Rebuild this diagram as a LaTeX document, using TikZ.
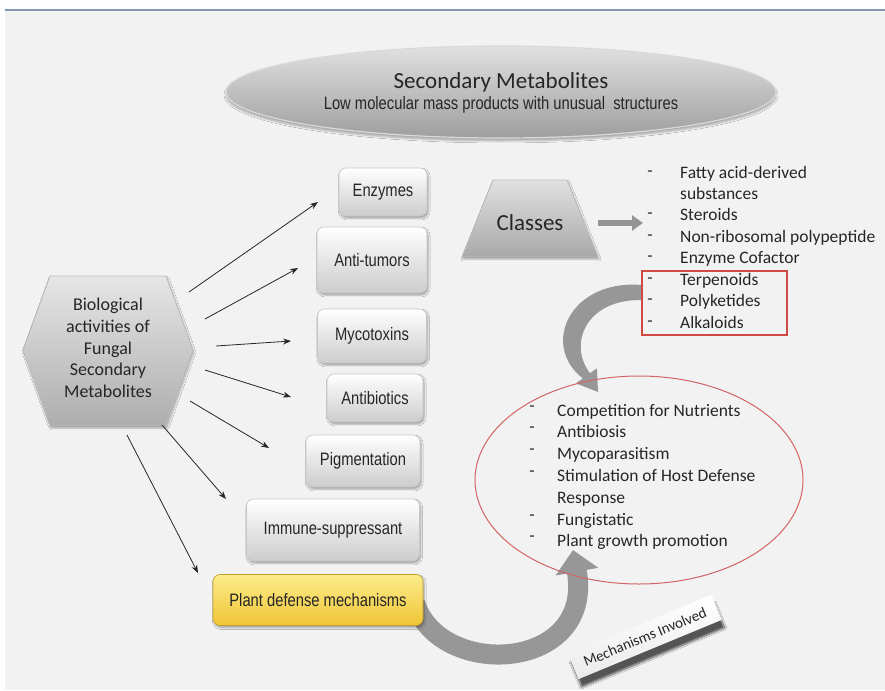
\documentclass[tikz,border=0pt]{standalone}
\usepackage{fontspec}
\setmainfont{Carlito}
\newfontfamily\narrowfont[FakeStretch=0.82]{Liberation Sans}
\usetikzlibrary{shapes.geometric,shadows.blur,arrows.meta}
\definecolor{bgc}{HTML}{F2F2F2}
\definecolor{txt}{HTML}{262626}
\definecolor{redbox}{HTML}{CF4A42}
\definecolor{redell}{HTML}{D26464}
\definecolor{arrgray}{HTML}{979797}
\definecolor{topline}{HTML}{8397B0}
\definecolor{yltop}{HTML}{FCEC8C}
\definecolor{ylbot}{HTML}{F0C535}
\tikzset{
  actbox/.style={rectangle, rounded corners=7pt, draw=black!22, line width=0.6pt,
    top color=white, bottom color=black!20, inner sep=0pt, text=txt,
    font=\narrowfont\fontsize{18}{20}\selectfont,
    blur shadow={shadow xshift=1.2pt, shadow yshift=-2pt, shadow blur steps=5, shadow opacity=35}},
  yellowbox/.style={actbox, top color=yltop, bottom color=ylbot, draw=ylbot!80!black},
  thinarr/.style={draw=black!85, line width=0.8pt, -{Stealth[length=8pt,width=6pt]}},
  curvarr/.style={draw=arrgray, line cap=butt},
  listtxt/.style={anchor=base west, inner sep=0pt, text=txt, font=\fontsize{17.5}{21}\selectfont},
  dashtxt/.style={anchor=base, inner sep=0pt, text=txt, font=\fontsize{17.5}{21}\selectfont},
}
\begin{document}
\begin{tikzpicture}[x=1pt,y=-1pt]
\useasboundingbox (0,0) rectangle (885,690);
\fill[white] (0,0) rectangle (885,690);
\fill[bgc] (5,11) rectangle (885,690);
\draw[topline, line width=1.5pt] (5,10) -- (885,10);

% title ellipse
\node[ellipse, minimum width=550pt, minimum height=92pt, inner sep=0pt,
  top color=black!12, bottom color=black!38, draw=white!85!black, line width=1.2pt,
  blur shadow={shadow xshift=0pt, shadow yshift=-3pt, shadow blur steps=6, shadow opacity=30}] (sm) at (501,92) {};
\node[text=txt, font=\fontsize{23}{25}\selectfont, inner sep=0pt] (smt) at (501,82) {Secondary Metabolites};
\node[text=txt, font=\narrowfont\fontsize{18}{20}\selectfont, inner sep=0pt] (sms) at (501,105) {Low molecular mass products with unusual\ \ structures};

% hexagon
\fill[top color=black!10, bottom color=black!32, draw=white!75!black, line width=0.8pt,
  blur shadow={shadow xshift=1pt, shadow yshift=-2pt, shadow blur steps=5, shadow opacity=30}]
  (23,350) -- (50,276) -- (166,276) -- (193,350) -- (166,426) -- (50,426) -- cycle;
\node[align=center, text=txt, font=\fontsize{18}{21.75}\selectfont, inner sep=0pt] (hex) at (108,348)
  {Biological\\activities of\\Fungal\\Secondary\\Metabolites};

% curved arrows (drawn under the boxes)
\coordinate (pa1) at (415,603);
\coordinate (pa2) at (573,550);
\draw[curvarr, line width=20pt, -{Triangle[length=22pt,width=42pt]}] (pa1) .. controls (440,680) and (595,672) .. (pa2);
\coordinate (pb1) at (642,285);
\coordinate (pb2) at (598,392);
\fill[arrgray] (pb1) .. controls (570,279) and (540,345) .. (582.8,378.4) -- (575.9,383.3) -- (pb2)
  -- (596.9,368.3) -- (590,373.2) .. controls (568,345) and (585,299) .. (642,300) -- cycle;

% activity boxes
\node[actbox, minimum width=88pt, minimum height=48pt] (enz) at (383,192) {Enzymes};
\node[actbox, minimum width=110pt, minimum height=66pt] (anti) at (372,260) {Anti-tumors};
\node[actbox, minimum width=109pt, minimum height=54pt] (myco) at (372,336) {Mycotoxins};
\node[actbox, minimum width=96pt, minimum height=48pt] (antib) at (375,398) {Antibiotics};
\node[actbox, minimum width=114pt, minimum height=52pt] (pig) at (363,461) {Pigmentation};
\node[actbox, minimum width=173pt, minimum height=62pt] (imm) at (333,530) {Immune-suppressant};
\node[yellowbox, minimum width=210pt, minimum height=51pt] (pdm) at (318,600) {Plant defense mechanisms};

% arrows from hexagon
\coordinate (s1) at (189,292); \coordinate (e1) at (318,202);
\coordinate (s2) at (205,319); \coordinate (e2) at (298,268);
\coordinate (s3) at (216,346); \coordinate (e3) at (291,341);
\coordinate (s4) at (205,370); \coordinate (e4) at (291,397);
\coordinate (s5) at (190,401); \coordinate (e5) at (269,448);
\coordinate (s6) at (162,425); \coordinate (e6) at (226,499);
\coordinate (s7) at (127,435); \coordinate (e7) at (198,573);
\foreach \i in {1,...,7} { \draw[thinarr] (s\i) -- (e\i); }

% classes
\fill[top color=black!12, bottom color=black!34, draw=white!75!black, line width=0.8pt,
  blur shadow={shadow xshift=1pt, shadow yshift=-2pt, shadow blur steps=5, shadow opacity=30}]
  (462,257) -- (493,180) -- (567,180) -- (598,257) -- cycle;
\node[text=txt, font=\fontsize{23}{25}\selectfont, inner sep=0pt] (cls) at (530,223) {Classes};
\coordinate (ca1) at (598,223);
\coordinate (ca2) at (643,223);
\draw[draw=black!42, line width=6pt, -{Triangle[length=11pt,width=15pt]}] (ca1) -- (ca2);

% classes list
\foreach \t [count=\k from 0] in {Fatty acid-derived, substances, Steroids, Non-ribosomal polypeptide, Enzyme Cofactor, Terpenoids, Polyketides, Alkaloids} {
  \node[listtxt] (cl\k) at (680,178+21.45*\k) {\t};
}
\foreach \k in {0,2,3,4,5,6,7} {
  \node[dashtxt] (cd\k) at (650,176+21.45*\k) {-};
}
\draw[redbox, line width=1.5pt] (642,271) rectangle (787,335);

% mechanisms ellipse
\node[ellipse, draw=redell, line width=1pt, minimum width=328pt, minimum height=208pt, inner sep=0pt] (mell) at (639,480) {};
\foreach \t [count=\k from 0] in {Competition for Nutrients, Antibiosis, Mycoparasitism, Stimulation of Host Defense, Response, Fungistatic, Plant growth promotion} {
  \node[listtxt] (ml\k) at (557,416+21.8*\k) {\t};
}
\foreach \k in {0,1,2,3,5,6} {
  \node[dashtxt] (md\k) at (532,411+21.8*\k) {-};
}

% banner
\node[rotate=22.5, minimum width=155pt, minimum height=27pt, inner sep=0pt,
  top color=white, bottom color=black!8, text=black!85, font=\fontsize{15}{16}\selectfont,
  blur shadow={shadow xshift=3pt, shadow yshift=-8pt, shadow blur steps=8, shadow opacity=65}] (mech) at (645,637) {Mechanisms Involved};
\end{tikzpicture}
\end{document}
